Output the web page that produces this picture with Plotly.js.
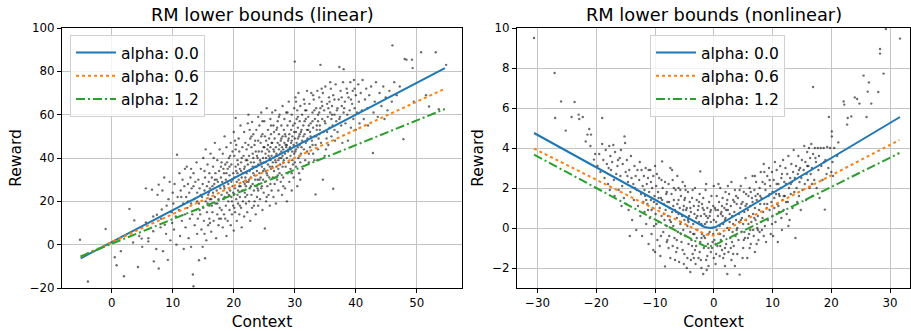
<!DOCTYPE html>
<html>
<head>
<meta charset="utf-8">
<script src="https://cdn.plot.ly/plotly-3.0.1.min.js"></script>
<style>html,body{margin:0;padding:0;background:#fff;}#chart{width:911px;height:331px;}</style>
</head>
<body>
<div id="chart"></div>
<script>
// ---------- Data: left panel (linear) ----------
const linearPoints = [
[-5.2,2.3],[-3.9,-17],[-1,7.2],[0.5,-5.8],[0.8,-9.5],[2,-14.6],[2.9,16.5],[3.7,11.2],[4.3,-10.3],[5.6,10.3],[5.6,26],[6.9,-7.7],[7.7,-11],[9.2,-7],
[1.5,-3],[3.5,1],[4.5,4],[4.9,2.8],[5,-1],[6,1.5],[6,3],[6.8,13],[6.8,6.2],[7.3,-2],[7.4,13.8],[7.5,23],[7.7,27.7],[8,8],[8.2,16.2],[8.4,-3],[8.7,9.2],[6.6,25.4],
[8.1,12],[8.3,25],[8.6,31],[8.9,5],[9,18],[9.3,21],[9.5,29],[9.6,2],[9.8,15],[9.9,10],[10,24],
[10.1,19],[10.2,7],[10.3,28],[10.5,13],[10.6,0],[10.7,41.5],[10.8,22],[11,16],[11.1,33],[11.2,4],[11.3,25],[11.5,11],[11.6,30],[11.7,19],[11.8,-2],[11.9,27],[12,14],[12,35],
[12.1,8],[12.2,22],[12.3,36],[12.4,17],[12.5,28],[12.6,3],[12.7,24],[12.8,12],[12.9,31],[13,19],[13,-1],[13.1,26],[13.2,14],[13.3,-13.8],[13.4,-19.2],[13.4,33],[13.5,21],[13.6,9],[13.7,29],[13.8,16],[13.9,38],[14,24],[14,5],[14.1,12],[14.3,-7.2],
[14.2,30],[14.3,19],[14.4,26],[14.5,14],[14.6,35],[14.7,7],[14.8,22],[14.9,28],[15,17],[15,40],[15.1,11],[15.2,25],[15.3,-6.3],[15.3,31],[15.4,20],[15.5,2],[15.6,27],[15.6,15],[15.7,37],[15.8,23],[15.8,9],[15.9,29],[16,18],[16,33],[16,12],[15.4,44],[14.9,-1],[15.2,5],[15.7,19],[14.6,23],
[16.1,26],[16.2,42],[16.3,21],[16.3,6],[16.4,31],[16.5,15],[16.6,36],[16.6,24],[16.7,11],[16.8,28],[16.9,47],[17,19],[17,33],[17.1,3],[17.2,25],[17.3,39],[17.3,14],[17.4,29],[17.5,21],[17.5,9],[17.6,34],[17.7,17],[17.7,44],[17.8,26],[17.9,12],[17.9,31],[18,23],[18,38],[18,16],[16.4,18],[16.9,22],[17.2,30],[16.1,10],[17.6,27],[16.7,40],
[18.1,29],[18.2,8],[18.2,42],[18.3,21],[18.4,33],[18.4,14],[18.5,50],[18.5,26],[18.6,37],[18.7,18],[18.7,30],[18.8,4],[18.8,45],[18.9,24],[19,35],[19,11],[19.1,28],[19.1,20],[19.2,40],[19.3,16],[19.3,32],[19.4,25],[19.5,47],[19.5,9],[19.6,29],[19.6,37],[19.7,20],[19.7,14],[19.8,43],[19.8,27],[19.9,33],[19.9,18],[20,52],[20,23],[20,6.5],[18.4,27],[19.2,23],[18.9,38],[19.8,30],[18.6,12],
[20.1,31],[20.1,41],[20.2,15],[20.2,26],[20.3,58.5],[20.3,36],[20.4,21],[20.4,46],[20.5,29],[20.5,11],[20.6,33],[20.6,39],[20.7,19],[20.7,25],[20.8,49],[20.8,30],[20.9,14],[20.9,43],[21,35],[21,22],[21.1,27],[21.1,55],[21.2,17],[21.2,38],[21.3,31],[21.3,8],[21.4,45],[21.4,25],[21.5,33],[21.5,20],[21.6,41],[21.6,29],[21.7,52],[21.7,13],[21.8,36],[21.8,24],[21.9,31],[21.9,47],[22,19],[22,39],[22,27],[20.6,23],[21.2,34],[21.8,28],[20.3,44],
[22.1,33],[22.1,44],[22.2,23],[22.2,15],[22.3,37],[22.3,56],[22.4,29],[22.4,60],[22.5,41],[22.5,20],[22.6,34],[22.6,26],[22.7,49],[22.7,11],[22.8,38],[22.8,31],[22.9,23],[22.9,45],[23,56.6],[23,35],[23,17],[23.1,28],[23.1,42],[23.2,33],[23.2,51],[23.3,25],[23.3,38],[23.4,20],[23.4,46],[23.5,30],[23.5,36],[23.6,14],[23.6,43],[23.7,27],[23.7,53],[23.8,34],[23.8,22],[23.9,40],[23.9,30],[24,48],[24,18],[24,37],[22.5,30],[23.2,40],[23.9,26],[22.9,50],[23.4,32],[22.2,39],[23.7,36],[24,59],
[24.1,28],[24.1,43],[24.2,33],[24.2,55],[24.3,21],[24.3,39],[24.4,47],[24.4,31],[24.5,61],[24.5,26],[24.6,36],[24.6,43],[24.7,16],[24.7,51],[24.8,30],[24.8,40],[24.9,24],[24.9,45],[25,35],[25,57],[25.1,7.5],[25.1,29],[25.2,42],[25.2,38],[25.3,20],[25.3,48],[25.4,33],[25.4,63],[25.5,27],[25.5,44],[25.6,37],[25.6,53],[25.7,23],[25.7,41],[25.8,31],[25.8,49],[25.9,36],[25.9,18],[26,45],[26,28],[26,58],[24.4,38],[25,45],[25.5,32],[26,39],[24.8,34],[25.3,40],[24.6,27],[25.8,43],[25.1,50],
[26.1,35],[26.1,51],[26.2,41],[26.2,25],[26.3,47],[26.3,61],[26.4,31],[26.4,38],[26.5,55],[26.5,22],[26.6,43],[26.6,34],[26.7,49],[26.7,28],[26.8,39],[26.8,62],[26.9,45],[26.9,19],[27,36],[27,53],[27.1,41],[27.1,30],[27.2,57],[27.2,47],[27.3,25],[27.3,39],[27.4,44],[27.4,51],[27.5,33],[27.5,60],[27.6,42],[27.6,37],[27.7,48],[27.7,29],[27.8,55],[27.8,40],[27.9,45],[27.9,23],[28,36],[28,50],[28,64],[26.5,44],[27,42],[27.5,46],[28,41],[26.9,38],[27.3,35],[27.8,43],[26.2,47],[27.1,54],
[28.1,44],[28.1,31],[28.2,53],[28.2,39],[28.3,58],[28.3,47],[28.4,26],[28.4,42],[28.5,50],[28.5,36],[28.6,61],[28.6,45],[28.7,20],[28.7,40],[28.8,55],[28.8,33],[28.9,48],[28.9,43],[29,38],[29,66],[29.1,51],[29.1,29],[29.2,45],[29.2,57],[29.3,41],[29.3,35],[29.4,53],[29.4,47],[29.5,25],[29.5,60],[29.6,43],[29.6,50],[29.7,37],[29.7,55],[29.8,46],[29.8,31],[29.9,63],[29.9,42],[30,84.5],[30,49],[30,38],[28.5,46],[29,44],[29.5,48],[30,56],
[30.1,43],[30.1,68],[30.2,52],[30.2,36],[30.3,58],[30.3,47],[30.4,27],[30.4,62],[30.5,45],[30.5,54],[30.6,40],[30.6,70],[30.7,50],[30.7,33],[30.8,57],[30.8,46],[30.9,64],[30.9,38],[31,52],[31,42],[31.2,60],[31.2,48],[31.3,35],[31.4,55],[31.5,44],[31.5,67],[31.6,51],[31.7,39],[31.8,58],[31.8,47],[31.9,62],[32,53],[32,43],[32,71],[30.5,49],[31.1,53],[31.6,57],[30.8,41],
[32.1,49],[32.2,59],[32.3,38],[32.4,65],[32.5,52],[32.5,45],[32.6,56],[32.7,70],[32.8,48],[32.9,61],[33,42],[33,54],[33.1,67],[33.2,50],[33.3,58],[33.4,23.2],[33.4,46],[33.5,63],[33.6,53],[33.7,71],[33.8,44],[33.8,57],[33.9,49],[34,61],[34,68],[32.2,53],[32.9,46],[33.6,55],[33.2,39],[34,51],
[34.1,55],[34.2,83],[34.2,63],[34.3,47],[34.5,58],[34.6,30],[34.6,70],[34.7,52],[34.8,62],[34.9,41],[35,56],[35,73],[35.2,49],[35.3,65],[35.4,59],[35.5,46],[35.6,68],[35.7,54],[35.8,61],[35.9,72],[36,50],[36,58],[34.4,66],[35.5,63],
[36.1,64],[36.2,55],[36.3,25.8],[36.3,69],[36.5,60],[36.6,48],[36.7,74],[36.8,57],[37,63],[37,52],[37.2,67],[37.3,82],[37.4,59],[37.5,71],[37.6,55],[37.7,64],[37.8,47],[37.9,75],[38,81],[38,61],
[38.2,66],[38.3,56],[38.5,72],[38.6,60],[38.7,48],[38.8,68],[39,62],[39.1,75],[39.2,54],[39.4,65],[39.5,71],[39.6,58],[39.7,76],[39.8,63],[40,69],[40,53],
[40.2,61],[40.4,74],[40.5,66],[40.6,56],[40.8,70],[41,62],[41.1,76],[41.3,58],[41.5,67],[41.7,72],[41.9,63],[42,55],
[42.2,69],[42.5,73],[42.8,42.3],[42.9,61],[43.1,66],[43.3,75],[43.6,59],[43.9,70],[44.2,64],[44.5,73],[44.7,58],[44.9,68],
[45.2,62],[45.5,71],[45.9,66],[46,92],[46.3,75],[46.7,69],[47.2,73],[47.8,48.7],[48,85.7],[48.3,85.4],[49.2,85.4],[49.3,81.5],[49.5,66],
[50.7,88.8],[51.5,69],[52,63.8],[53.1,88.8],[53.6,62.5],[54.8,83],
[18.3,35],[18.9,29],[19.4,41],[19.9,24],[20.4,34],[20.9,27],[21.3,40],[21.7,35],[22.1,29],[22.4,46],[22.8,27],[23.1,36],[23.5,48],[23.8,41],[24.2,30],[24.5,50],[24.9,38],[25.2,34],[25.6,46],[25.9,40],[26.3,36],[26.6,52],[26.9,41],[27.2,32],[27.5,40],[27.8,49],[28.1,38],[28.4,51],[28.7,46],[29,49],[29.3,44],[29.6,39],[29.9,52],[30.2,44],[30.5,59],[30.8,51],[31.1,45],[31.4,50],[31.7,62],[32,48],[32.3,55],[32.6,50],[32.9,57],[33.2,62],[33.5,50],[33.8,60],[34.1,53],[34.5,64],[34.9,57],[35.3,52],[35.7,66],[36.1,60],[36.5,67],[36.9,62],[37.3,58],[37.7,68],[38.1,63],[38.6,70],[39.2,67],[39.8,72],
[20.2,48],[21,18],[21.9,22],[22.6,53],[23.3,18],[24,25],[24.7,57],[25.4,22],[26.1,55],[26.8,31],[27.4,59],[28.1,27],[28.8,61],[29.5,33],[30.2,66],[30.9,30],[31.6,65],[32.3,42],[33,69],[33.7,39],[34.4,72],[35.1,44],[35.8,75],[36.5,53],
[12.5,20],[13.4,27],[14.4,16],[15.2,34],[16.1,21],[16.9,30],[17.6,12],[18.5,22],[19.3,36],[20.1,17],[15.9,24],[17.3,19],[18.8,33],[19.6,22],[14,20],[13,35],[11.4,22],[16.5,27],[17.9,36],[20.7,37]
];
const linearLineX = [-5.1, 54.6];
const linearAlpha00 = [-6.3, 81.5];
const linearAlpha06 = [-5.5, 72.0];
const linearAlpha12 = [-5.4, 62.6];

// ---------- Data: right panel (nonlinear) ----------
const nonlinearPoints = [
[-30.6,9.5],[-27.1,7.75],[-27,5.5],[-26,6.33],[-25.2,4.87],[-24.2,5.55],[-23.7,6.3],[-23,5.67],[-22.9,5.45],[-22.3,5.55],[-21.8,4.33],[-21.5,4.67],[-21.2,4.95],[-20.9,4.67],[-20.4,3.42],[-20.2,3.7],[-21,4.1],[-19,5.5],
[-19.8,3.1],[-19.5,3.7],[-19.3,2.8],[-19,4.2],[-18.8,3.4],[-18.6,2.5],[-18.4,3.9],[-18.2,3.2],[-18,2.2],[-17.8,4.1],[-17.6,3.6],[-17.5,2.9],[-17.3,3.3],[-17.1,4.15],[-17,2.4],[-16.8,3.8],[-16.6,2.7],[-16.4,3.1],[-16.2,1.9],[-16,3.5],[-16.9,1.6],[-17.7,1.9],
[-15.9,2.6],[-15.8,3.9],[-15.6,2.1],[-15.5,3.2],[-15.3,1.5],[-15.2,4.58],[-15.1,4.25],[-15,2.8],[-14.9,1.2],[-14.8,3.4],[-14.6,2.3],[-14.5,0.9],[-14.4,2.9],[-14.2,1.8],[-14.1,3.6],[-14,2.5],[-13.9,0.4],[-13.7,2.2],[-13.6,1.4],[-13.5,3.1],[-13.3,2.6],[-13.2,-0.1],[-13.1,1.9],[-13,2.9],[-12.9,1.1],[-12.7,2.4],[-12.6,3.3],[-12.5,0.6],[-12.4,1.7],[-12.3,2.9],[-12.2,-0.4],[-12.1,2.1],[-12,1.3],[-15.7,1.1],[-14.3,-0.4],
[-11.9,2.6],[-11.8,0.8],[-11.7,1.6],[-11.6,3.0],[-11.5,0.2],[-11.4,2.2],[-11.3,1.2],[-11.2,2.5],[-11.1,-0.8],[-11,1.8],[-10.9,0.5],[-10.8,2.9],[-10.7,1.4],[-10.6,-0.3],[-10.5,2.0],[-10.4,1.0],[-10.3,2.6],[-10.2,0.1],[-10.1,1.6],[-10,3.1],[-10,-1.2],[-9.9,0.7],[-9.8,2.1],[-9.7,1.2],[-9.6,-0.6],[-9.5,1.8],[-9.4,0.3],[-9.3,2.5],[-9.2,1.0],[-9.1,-1.4],[-9,1.5],[-8.9,0.6],[-8.8,3.33],[-8.7,2.0],[-8.6,-0.2],[-8.5,1.2],[-8.4,0.4],[-8.3,-1.92],[-8.3,2.3],[-8.2,0.9],[-8.1,1.7],[-8,-0.7],[-8,0.1],[-11.5,1.4],[-10.6,0.9],[-9.7,2.7],[-9.2,-0.9],[-8.8,1.4],[-10.3,-1.1],[-11.1,2.9],
[-7.9,1.3],[-7.8,0.6],[-7.7,2.2],[-7.6,-0.4],[-7.5,1.0],[-7.4,3.0],[-7.4,-1.5],[-7.3,0.3],[-7.2,1.7],[-7.1,0.8],[-7,-0.9],[-7,2.4],[-6.9,0.1],[-6.8,1.4],[-6.7,-0.5],[-6.6,0.9],[-6.5,1.9],[-6.4,-1.2],[-6.3,0.5],[-6.2,1.2],[-6.1,-0.2],[-6,2.0],[-6,0.7],[-5.9,-1.7],[-5.8,1.0],[-5.7,0.2],[-5.6,1.6],[-5.5,-0.7],[-5.4,0.6],[-5.3,2.3],[-5.2,-0.1],[-5.1,1.1],[-5,-1.3],[-5,0.4],[-4.9,1.5],[-4.8,-0.4],[-4.7,0.9],[-4.6,-2.0],[-4.5,0.1],[-4.4,1.8],[-4.3,-0.8],[-4.2,0.6],[-4.1,1.3],[-4,-2.2],[-4,-0.2],[-7.9,-0.6],[-7.1,2.9],[-6.6,-1.6],[-6.2,2.6],[-5.7,1.9],[-5.3,-1.1],[-4.9,2.1],[-4.5,-1.5],[-7.5,0.4],[-6.9,1.1],[-6.3,-0.6],[-5.6,0.3],[-5.0,1.4],[-4.3,0.3],[-4.6,1.0],
[-3.9,0.8],[-3.8,-0.6],[-3.7,1.5],[-3.6,-1.3],[-3.5,0.2],[-3.4,1.1],[-3.3,-0.3],[-3.2,2.0],[-3.1,-1.8],[-3,0.5],[-3,-0.9],[-2.9,1.4],[-2.8,-0.1],[-2.7,0.9],[-2.6,-1.5],[-2.5,0.3],[-2.4,1.7],[-2.3,2.83],[-2.3,-0.7],[-2.2,0.6],[-2.1,-2.0],[-2,1.2],[-2,-0.3],[-1.9,0.1],[-1.8,-2.3],[-1.8,1.5],[-1.7,-1.0],[-1.6,0.7],[-1.5,-0.5],[-1.4,1.9],[-1.3,-1.6],[-1.2,0.3],[-1.1,1.0],[-1,-0.8],[-1,0.5],[-0.9,-1.9],[-0.8,1.3],[-0.7,-0.2],[-0.6,0.8],[-0.5,-1.2],[-0.4,1.6],[-0.3,0.0],[-0.2,-0.7],[-0.1,1.1],[0,-1.5],[0,0.4],[0,2.1],[-3.6,1.9],[-3.2,-1.1],[-2.8,0.6],[-2.4,-1.2],[-1.9,1.0],[-1.5,0.2],[-1.1,-1.4],[-0.7,0.6],[-0.3,-1.0],[-2.6,1.1],[-3.9,-1.6],[-1.3,2.2],[-0.5,0.3],[-2.1,-0.5],[-3.5,-0.3],[-0.9,-0.3],[-1.7,0.9],
[0.1,-0.6],[0.2,1.0],[0.3,-1.8],[0.4,0.3],[0.5,1.6],[0.6,-0.9],[0.7,0.6],[0.8,-0.3],[0.9,1.3],[1,-1.4],[1,0.1],[1.1,2.0],[1.2,-0.6],[1.3,0.8],[1.4,-1.1],[1.5,1.5],[1.6,0.2],[1.7,-0.4],[1.8,1.0],[1.9,-1.9],[2,0.5],[2,1.8],[2.1,-0.8],[2.2,1.2],[2.3,-2.3],[2.3,0.0],[2.4,0.9],[2.5,-1.2],[2.6,1.7],[2.7,0.3],[2.8,-0.5],[2.9,1.1],[3,2.3],[3,-1.6],[3.1,0.6],[3.2,-0.2],[3.3,1.4],[3.4,-0.9],[3.5,0.8],[3.6,1.9],[3.7,-0.4],[3.8,0.4],[3.9,1.2],[4,-1.3],[4,0.0],[0.5,-0.1],[1.2,0.7],[1.9,0.4],[2.6,-0.1],[3.3,0.2],[0.8,2.2],[1.6,-1.5],[2.4,2.1],[3.6,-1.9],[0.3,0.9],[1.4,1.1],[2.9,-1.0],[3.8,1.6],[2.1,0.9],[1.1,-0.9],
[4.1,1.5],[4.2,-0.6],[4.3,0.7],[4.4,-2.33],[4.5,1.0],[4.6,2.1],[4.7,-0.2],[4.8,0.5],[4.9,1.3],[5,-1.0],[5,0.2],[5.1,1.8],[5.2,0.8],[5.3,-0.5],[5.4,2.5],[5.5,0.4],[5.6,1.2],[5.7,-1.5],[5.8,0.9],[5.9,1.6],[6,-0.3],[6,0.6],[6.1,2.0],[6.2,1.1],[6.3,-0.8],[6.4,0.3],[6.5,1.5],[6.6,2.6],[6.7,0.7],[6.8,-0.4],[6.9,1.9],[7,1.0],[7,-1.2],[7.1,0.4],[7.2,2.3],[7.3,1.4],[7.4,0.0],[7.5,1.7],[7.6,-0.6],[7.7,0.9],[7.8,2.0],[7.9,1.2],[8,0.3],[8,2.8],[4.6,0.4],[5.4,1.1],[6.2,-0.1],[7.0,2.6],[7.8,-0.2],[5.8,-0.5],[6.9,0.5],[4.4,1.9],[5.2,-0.2],[6.6,1.3],[7.5,0.6],
[8.1,1.5],[8.2,-0.1],[8.3,2.3],[8.4,0.8],[8.5,3.2],[8.6,1.2],[8.7,0.1],[8.8,1.9],[8.9,-0.7],[9,1.0],[9.1,2.6],[9.2,0.4],[9.3,1.6],[9.4,3.0],[9.5,0.9],[9.6,2.1],[9.7,-0.3],[9.8,1.3],[9.9,2.8],[10,0.6],[10,1.8],[10.2,2.4],[10.3,1.0],[10.4,3.3],[10.5,0.3],[10.6,1.7],[10.7,2.9],[10.8,1.2],[10.9,-0.7],[11,2.2],[11.1,0.8],[11.2,1.6],[11.3,3.1],[11.4,2.0],[11.5,0.5],[11.6,2.7],[11.7,1.4],[11.8,3.4],[11.9,0.9],[12,2.3],[8.6,2.8],[9.5,1.7],[10.1,-0.4],[11,1.1],[11.6,-0.1],
[12.1,1.6],[12.2,3.0],[12.3,2.2],[12.4,0.7],[12.5,2.7],[12.6,1.3],[12.7,3.6],[12.8,2.0],[12.9,0.4],[13,2.5],[13.1,1.7],[13.2,3.2],[13.3,2.3],[13.4,1.0],[13.5,2.8],[13.6,3.9],[13.7,1.8],[13.8,2.5],[13.9,-0.5],[14,3.1],[14.1,2.0],[14.2,1.3],[14.3,2.7],[14.4,3.6],[14.5,1.6],[14.6,2.3],[14.7,3.0],[14.8,0.9],[14.9,2.5],[15,3.4],[15.1,1.9],[15.3,2.9],[15.4,4.1],[15.5,2.2],[15.6,3.3],[15.7,1.4],[15.8,2.7],[15.9,3.8],[16,2.4],[12.7,0.1],
[16.1,3.1],[16.2,4.0],[16.3,2.0],[16.4,3.5],[16.5,2.7],[16.6,4.2],[16.7,3.0],[16.8,1.6],[16.9,3.7],[16.9,7.05],[17.1,2.4],[17.2,4.0],[17.4,3.3],[17.5,2.0],[17.7,4.0],[17.8,2.9],[17.9,3.6],[18,1.5],[18.2,4.0],[18.3,3.1],[18.5,2.4],[18.7,4.0],[18.9,0.92],[19,3.4],[19.2,2.7],[19.3,4.05],[19.5,3.0],[19.6,5.55],[19.8,4.0],[20,2.8],
[20.1,4.83],[20.1,4.58],[20.2,3.3],[20.3,2.6],[20.5,4.0],[21,3.6],[21.2,4.28],[22.1,6.33],[22.2,6.17],[22.7,5.17],[22.8,5.5],[23.4,5.58],[24,6.53],[24.4,6.45],[24.8,6.22],[25.5,7.62],[26,5.55],[26.2,6.82],[26.4,7.28],[26.8,6.22],[28,6.8],[28.3,8.95],[28.3,8.72],[28.9,7.72],[29.3,9.95],[31.7,9.47],
[-11.8,1.9],[-11.2,0.9],[-10.7,2.3],[-10.2,1.3],[-9.8,0.2],[-9.4,1.5],[-8.9,2.4],[-8.5,0.7],[-8,1.8],[-7.6,1.3],[-7.2,0.0],[-6.8,2.0],[-6.4,0.8],[-6,1.4],[-5.6,-0.3],[-5.2,0.9],[-4.8,1.9],[-4.4,0.4],[-4,1.0],[-3.7,-0.9],[-3.3,0.7],[-2.9,-0.5],[-2.5,1.3],[-2.1,0.2],[-1.7,-0.4],[-1.3,0.6],[-0.9,-1.0],[-0.5,0.9],[-0.1,-0.3],[0.3,-0.8],[0.7,0.9],[1.1,-0.3],[1.5,0.6],[1.9,-1.0],[2.3,1.4],[2.7,0.7],[3.1,-0.7],[3.5,1.3],[3.9,-0.1],[4.3,0.3],[4.7,1.2],[5.1,-0.6],[5.5,1.7],[5.9,0.2],[6.3,1.8],[6.7,-0.1],[7.1,1.6],[7.5,-0.1],[7.9,1.6],[8.3,0.5],[8.7,2.2],[9.1,1.2],[9.5,2.4],[9.9,0.2],[10.3,1.5],[10.7,2.2],[11.1,1.7],[11.5,2.5],[11.9,1.6],[12.3,1.3],
[-9,-0.4],[-7.7,-1.0],[-6.2,-1.0],[-5.1,-1.8],[-3.4,-1.5],[-2.2,-1.6],[-1.2,-2.1],[0.4,-1.3],[1.8,-1.3],[3.3,-1.3],[4.9,-1.5],[6.1,-1.0],[7.3,-0.8],[8.5,-0.4],[-13.4,2.0],[-14.7,2.6],[-16.3,3.4],[-17.9,3.0],[13.1,2.2],[14.5,2.9],[15.9,3.1],[17.3,3.5],[18.8,3.3],[16.7,2.2]
];
const nonlinearAlpha00X = [-30.6, -1.6, -0.6, 0.3, 31.7];
const nonlinearAlpha00Y = [4.75, 0.05, 0.0, 0.05, 5.55];
const nonlinearAlpha06X = [-30.6, -1.3, -0.3, 0.5, 31.6];
const nonlinearAlpha06Y = [3.97, -0.33, -0.38, -0.33, 4.4];
const nonlinearAlpha12X = [-30.6, -1.6, -0.8, 0.3, 31.6];
const nonlinearAlpha12Y = [3.67, -0.9, -0.93, -0.83, 3.75];

const seriesNames = ['alpha: 0.0', 'alpha: 0.6', 'alpha: 1.2'];
const seriesColors = ['#1f77b4', '#ff7f0e', '#2ca02c'];
const seriesDash = ['solid', 'dot', '9px,3px,2px,3px'];

const dotStyle = {size: 2.4, color: 'rgba(0,0,0,0.58)'};
const traces = [
  {x: linearPoints.map(p => p[0]), y: linearPoints.map(p => p[1]), mode: 'markers', type: 'scatter',
   marker: dotStyle, showlegend: false, xaxis: 'x', yaxis: 'y', hoverinfo: 'skip'},
  {x: nonlinearPoints.map(p => p[0]), y: nonlinearPoints.map(p => p[1]), mode: 'markers', type: 'scatter',
   marker: dotStyle, showlegend: false, xaxis: 'x2', yaxis: 'y2', hoverinfo: 'skip'}
];
const linYs = [linearAlpha00, linearAlpha06, linearAlpha12];
const nlX = [nonlinearAlpha00X, nonlinearAlpha06X, nonlinearAlpha12X];
const nlY = [nonlinearAlpha00Y, nonlinearAlpha06Y, nonlinearAlpha12Y];
for (let i = 0; i < 3; i++) {
  traces.push({x: linearLineX, y: linYs[i], mode: 'lines', type: 'scatter', name: seriesNames[i],
    line: {color: seriesColors[i], width: 2, dash: seriesDash[i]}, xaxis: 'x', yaxis: 'y', legend: 'legend'});
}
for (let i = 0; i < 3; i++) {
  traces.push({x: nlX[i], y: nlY[i], mode: 'lines', type: 'scatter', name: seriesNames[i],
    line: {color: seriesColors[i], width: 2, dash: seriesDash[i]}, xaxis: 'x2', yaxis: 'y2', legend: 'legend2'});
}

const W = 911, H = 331;
const fontFam = 'DejaVu Sans, Arial, sans-serif';
const axisCommon = {
  showgrid: true, gridcolor: '#c4c4c4', gridwidth: 1,
  showline: true, linecolor: '#000', linewidth: 1, mirror: true,
  ticks: 'outside', ticklen: 4, tickcolor: '#000', tickwidth: 1,
  zeroline: false, tickfont: {family: fontFam, size: 11.8, color: '#000'}
};
const yDom = [43 / H, 303 / H];
const legendCommon = {xanchor: 'left', yanchor: 'top', bgcolor: 'rgba(255,255,255,0.8)',
  bordercolor: '#d0d0d0', borderwidth: 1, font: {family: fontFam, size: 15.5, color: '#000'}, itemwidth: 40, tracegroupgap: 0};
const layout = {
  width: W, height: H,
  margin: {l: 0, r: 0, t: 0, b: 0},
  paper_bgcolor: '#fff', plot_bgcolor: '#fff',
  font: {family: fontFam, color: '#000'},
  xaxis: Object.assign({}, axisCommon, {domain: [62 / W, 462 / W], range: [-8.15, 57.4], tick0: 0, dtick: 10,
    title: {text: 'Context', font: {family: fontFam, size: 15.5}, standoff: 6}}),
  yaxis: Object.assign({}, axisCommon, {domain: yDom, range: [-20, 100], tick0: 0, dtick: 20,
    title: {text: 'Reward', font: {family: fontFam, size: 15.5}, standoff: 4}}),
  xaxis2: Object.assign({}, axisCommon, {domain: [517 / W, 910 / W], range: [-33.5, 33.4], tick0: 0, dtick: 10, anchor: 'y2',
    title: {text: 'Context', font: {family: fontFam, size: 15.5}, standoff: 6}}),
  yaxis2: Object.assign({}, axisCommon, {domain: yDom, range: [-3, 10], tick0: 0, dtick: 2, anchor: 'x2',
    title: {text: 'Reward', font: {family: fontFam, size: 15.5}, standoff: 4}}),
  legend: Object.assign({}, legendCommon, {x: 70 / W, y: 1 - 35 / H}),
  legend2: Object.assign({}, legendCommon, {x: 650 / W, y: 1 - 35 / H}),
  annotations: [
    {text: 'RM lower bounds (linear)', x: 262 / W, y: 1 - 15 / H, xref: 'paper', yref: 'paper', showarrow: false,
     xanchor: 'center', yanchor: 'middle', font: {family: fontFam, size: 17.8, color: '#000'}},
    {text: 'RM lower bounds (nonlinear)', x: 713.5 / W, y: 1 - 15 / H, xref: 'paper', yref: 'paper', showarrow: false,
     xanchor: 'center', yanchor: 'middle', font: {family: fontFam, size: 17.8, color: '#000'}}
  ],
  showlegend: true
};
Plotly.newPlot('chart', traces, layout, {staticPlot: true, displayModeBar: false});
</script>
</body>
</html>
